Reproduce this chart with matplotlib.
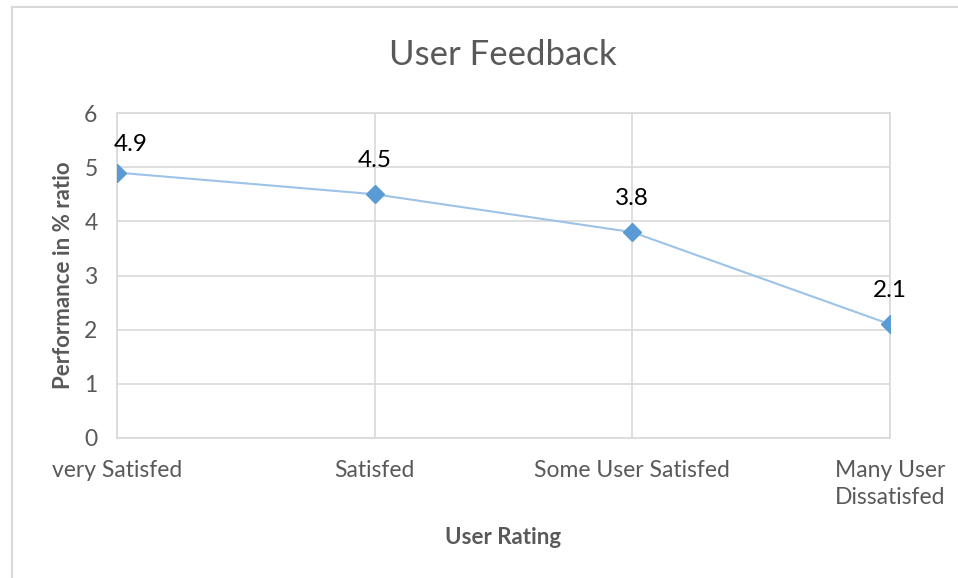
import matplotlib.pyplot as plt
from matplotlib.lines import Line2D

# data
categories = ["very Satisfed", "Satisfed", "Some User Satisfed", "Many User\nDissatisfed"]
values = [4.9, 4.5, 3.8, 2.1]
yticks = [0, 1, 2, 3, 4, 5, 6]

plt.rcParams['font.family'] = ['Lato', 'DejaVu Sans']
grey = '#595959'

fig = plt.figure(figsize=(9.58, 5.78), dpi=100)
ax = fig.add_axes([117/958, 1-438/578, 773/958, 325/578])

x = list(range(len(categories)))
ax.plot(x, values, color='#9DC3E6', lw=1.5, zorder=3)
ax.plot(x, values, ls='none', marker='D', ms=9, color='#5B9BD5', zorder=4)

# data labels (first one nudged to stay inside the plot)
for i, v in enumerate(values):
    off = (10, 20) if i == 0 else (0, 24.5)
    ax.annotate(f"{v}", (i, v), xytext=off, textcoords='offset points',
                ha='center', va='center', fontsize=17.5, color='black')

ax.set_xlim(0, len(categories) - 1)
ax.set_ylim(0, 6)
ax.set_yticks(yticks)
ax.set_xticks(x)
ax.set_xticklabels(categories, linespacing=1.32)
ax.grid(True, color='#D9D9D9', lw=1.2)
ax.set_axisbelow(True)
for s in ax.spines.values():
    s.set_color('#D9D9D9')
    s.set_linewidth(1.2)
ax.tick_params(length=0, labelsize=16.5, colors=grey)
ax.tick_params(axis='x', pad=16)
ax.tick_params(axis='y', pad=14)

ax.set_xlabel("User Rating", fontsize=16, fontweight='bold', color=grey, labelpad=14)
ax.set_ylabel("Performance in % ratio", fontsize=16, fontweight='bold', color=grey, labelpad=7)
fig.text(503/958, 1-55/578, "User Feedback", ha='center', va='center', fontsize=25, color=grey)

# outer chart border (left and top edges visible)
fig.add_artist(Line2D([12/958, 12/958], [0, 1-7/578], transform=fig.transFigure, color='#D9D9D9', lw=1.5))
fig.add_artist(Line2D([12/958, 1], [1-7/578, 1-7/578], transform=fig.transFigure, color='#D9D9D9', lw=1.5))

fig.savefig('out.png', dpi=100)
